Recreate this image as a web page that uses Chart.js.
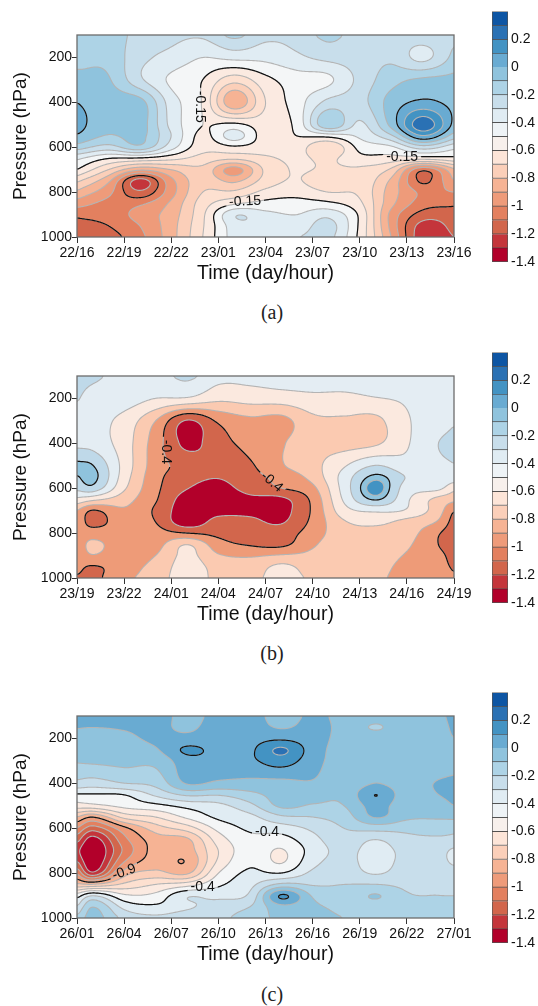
<!DOCTYPE html>
<html>
<head>
<meta charset="utf-8">
<title>Contours</title>
<script src="https://cdn.jsdelivr.net/npm/chart.js@4/dist/chart.umd.min.js"></script>
<style>
    html, body { margin: 0; padding: 0; background: #fff; }
    #page { position: relative; width: 538px; height: 1006px; overflow: hidden; }
    canvas { position: absolute; left: 0; }
    .tag { position: absolute; left: 222px; width: 100px; text-align: center; font: 20px "Liberation Serif", serif; color: #222; }
</style>
</head>
<body>
<div id="page">
    <canvas id="plotA" width="538" height="300" style="top:0"></canvas>
    <canvas id="barA" width="538" height="290" style="top:0"></canvas>
    <div class="tag" style="top:301px">(a)</div>
    <canvas id="plotB" width="538" height="300" style="top:341px"></canvas>
    <canvas id="barB" width="538" height="290" style="top:341px"></canvas>
    <div class="tag" style="top:642px">(b)</div>
    <canvas id="plotC" width="538" height="300" style="top:681px"></canvas>
    <canvas id="barC" width="538" height="290" style="top:681px"></canvas>
    <div class="tag" style="top:983px">(c)</div>
</div>
<script>
const timeLabelsA = ['22/16', '22/19', '22/22', '23/01', '23/04', '23/07', '23/10', '23/13', '23/16'];
const timeLabelsB = ['23/19', '23/22', '24/01', '24/04', '24/07', '24/10', '24/13', '24/16', '24/19'];
const timeLabelsC = ['26/01', '26/04', '26/07', '26/10', '26/13', '26/16', '26/19', '26/22', '27/01'];
const pressureTicks = [200, 400, 600, 800, 1000];
const barTicks = [0.2, 0, -0.2, -0.4, -0.6, -0.8, -1, -1.2, -1.4];

// colour bar bands, top to bottom
const barEdges = [0.4, 0.3, 0.2, 0.1, 0, -0.1, -0.2, -0.3, -0.4, -0.5, -0.6, -0.7, -0.8, -0.9, -1, -1.1, -1.2, -1.3, -1.4];
const barColors = ['#0d55a4', '#2a71b4', '#4393c3', '#69abd2', '#8fc3dd', '#add3e6', '#c8deeb', '#e0ecf3', '#eef3f6',
    '#f7f0ec', '#fde5d8', '#fbcfb9', '#f6b394', '#ee9b7a', '#e3805f', '#d2664c', '#c4353b', '#b2002a'];
// same bands as they come out inside the plots, the pale ones differ a little
const plotColors = ['#0d55a4', '#2a71b4', '#4393c3', '#69abd2', '#8fc3dd', '#add3e6', '#c8deeb', '#e0ecf3', '#f4f6f7',
    '#fbeae1', '#fde0d0', '#fbcfb9', '#f6b394', '#ee9b7a', '#e3805f', '#d2664c', '#c4353b', '#b2002a'];

// panel (b) has wider contour steps
const levelsB = [0.05, -0.05, -0.25, -0.45, -0.65, -0.85, -1.05, -1.25];
const colorsB = ['#4393c3', '#8fc3dd', '#bfd9e9', '#e4edf3', '#fbe9df', '#fbcab1', '#ee9b78', '#d2664c', '#b2002a'];

// hours since the start of each panel, one per column below
const hoursA = [0, 2, 4, 6, 8, 10, 12, 14, 16, 18, 20, 22, 24];
const hoursB = [0, 1, 3, 5, 7, 9, 11, 13, 15, 17, 19, 21, 23, 24];
const hoursC = hoursB;

const pressuresA = [100, 200, 300, 400, 500, 550, 600, 650, 700, 750, 800, 850, 900, 950, 1000];
const pressuresB = pressuresA;
const pressuresC = [100, 150, 200, 250, 300, 400, 450, 500, 550, 600, 650, 700, 750, 800, 850, 900, 950, 1000];

// each line is one time column, top of the atmosphere first
const valuesA = [
    [-.17, -.13, -.07, 0, .03, -.01, -.15, -.38, -.5, -.68, -.82, -.95, -1.08, -1.13, -1.17],
    [-.14, -.13, -.09, -.05, -.06, -.11, -.24, -.5, -.7, -.88, -.97, -1.03, -1.06, -1.1, -1.14],
    [-.24, -.27, -.28, -.06, -.05, -.07, -.13, -.52, -.88, -1.25, -1.18, -1.02, -.96, -1, -1.03],
    [-.27, -.33, -.42, -.35, -.33, -.3, -.36, -.57, -.8, -.93, -.94, -.88, -.85, -.84, -.84],
    [-.28, -.4, -.5, -.51, -.5, -.53, -.56, -.64, -.73, -.74, -.7, -.65, -.62, -.61, -.6],
    [-.17, -.37, -.66, -.88, -.47, -.35, -.52, -.68, -.95, -.82, -.68, -.52, -.31, -.35, -.36],
    [-.27, -.37, -.53, -.6, -.55, -.55, -.55, -.62, -.68, -.66, -.57, -.47, -.37, -.32, -.32],
    [-.26, -.32, -.45, -.45, -.47, -.5, -.55, -.58, -.59, -.59, -.53, -.47, -.4, -.36, -.3],
    [-.17, -.27, -.42, -.27, -.11, -.47, -.7, -.62, -.62, -.7, -.6, -.48, -.33, -.26, -.27],
    [-.25, -.25, -.27, -.24, -.32, -.38, -.47, -.53, -.62, -.63, -.62, -.58, -.52, -.52, -.53],
    [-.25, -.22, -.14, -.06, -.07, -.22, -.42, -.54, -.72, -.82, -.85, -.87, -.93, -.93, -.9],
    [-.24, -.33, -.08, .02, .27, .09, -.25, -.56, -1.08, -1.12, -1.02, -1.05, -1.14, -1.24, -1.27],
    [-.22, -.17, -.07, -.03, -.03, -.15, -.37, -.53, -.82, -.9, -1, -1.08, -1.15, -1.17, -1.2]
];
const valuesB = [
    [-.15, -.23, -.33, -.3, 0, -.07, -.2, -.5, -.85, -.92, -.95, -.97, -.98, -1, -1.07],
    [-.2, -.33, -.37, -.33, -.04, .02, -.12, -.6, -1.07, -1.12, -.95, -.8, -.86, -1.07, -1.1],
    [-.33, -.35, -.52, -.55, -.52, -.55, -.62, -.77, -.88, -.95, -.97, -.98, -.98, -.95, -.9],
    [-.33, -.45, -.85, -.95, -.95, -.98, -1, -1.03, -1.08, -1.05, -.98, -.93, -.85, -.78, -.75],
    [-.2, -.47, -1.27, -1.3, -1.12, -1.17, -1.24, -1.35, -1.38, -1.38, -1.05, -.65, -.6, -.57, -.55],
    [-.37, -.6, -1.02, -1.13, -1.2, -1.24, -1.32, -1.4, -1.33, -1.17, -1.1, -.97, -.83, -.72, -.7],
    [-.37, -.57, -.9, -.98, -1.08, -1.12, -1.17, -1.3, -1.3, -1.2, -1.13, -1.07, -.87, -.77, -.72],
    [-.32, -.55, -.92, -.87, -.87, -.98, -1.05, -1.3, -1.32, -1.27, -1.15, -1.1, -.83, -.6, -.55],
    [-.32, -.5, -.7, -.72, -.72, -.78, -.9, -1, -1.02, -1, -.95, -.88, -.8, -.74, -.68],
    [-.33, -.5, -.68, -.72, -.47, -.37, -.37, -.42, -.53, -.67, -.73, -.72, -.7, -.68, -.67],
    [-.32, -.46, -.7, -.68, -.24, 0, .12, -.03, -.42, -.6, -.72, -.73, -.73, -.75, -.78],
    [-.33, -.42, -.47, -.47, -.38, -.26, -.35, -.42, -.47, -.72, -.77, -.82, -.87, -.93, -.97],
    [-.33, -.33, -.35, -.25, -.3, -.33, -.4, -.72, -.77, -.87, -1.03, -1.05, -1, -1, -1],
    [-.27, -.32, -.27, -.18, -.26, -.33, -.6, -.8, -1.05, -1.15, -1.2, -1.18, -1.12, -1.07, -1.03]
];
const valuesC = [
    [.05, .005, -.03, -.06, -.09, -.23, -.41, -.55, -.8, -1, -1.15, -1.27, -1.18, -1, -.78, -.45, -.3, -.17],
    [.08, 0, -.02, -.05, -.08, -.25, -.41, -.53, -.9, -1.15, -1.35, -1.42, -1.4, -1.28, -.8, -.3, -.1, -.05],
    [.05, .01, -.02, -.04, -.07, -.2, -.4, -.47, -.67, -.93, -1.03, -1.08, -1, -.85, -.68, -.48, -.33, -.22],
    [.06, .03, .02, -.01, -.07, -.17, -.28, -.43, -.6, -.75, -.85, -.86, -.85, -.77, -.6, -.47, -.38, -.27],
    [-.04, -.02, .03, .12, .06, .01, -.18, -.37, -.48, -.65, -.82, -.85, -.893, -.82, -.55, -.31, -.32, -.22],
    [.04, .05, .05, .07, .07, -.02, -.19, -.33, -.38, -.47, -.55, -.6, -.58, -.5, -.42, -.33, -.25, -.22],
    [.05, .05, .06, .08, .08, -.03, -.13, -.23, -.33, -.38, -.43, -.44, -.42, -.38, -.33, -.28, -.2, -.15],
    [-.05, -.01, .08, .22, .15, -.03, -.06, -.08, -.22, -.35, -.44, -.51, -.51, -.4, -.18, .118, -.03, -.08],
    [.02, .03, .04, .05, .04, -.01, -.06, -.11, -.2, -.28, -.33, -.36, -.33, -.28, -.21, -.11, -.08, -.07],
    [-.03, -.03, -.03, -.04, -.05, -.07, -.08, -.1, -.15, -.2, -.24, -.27, -.27, -.25, -.2, -.17, -.13, -.1],
    [-.05, -.11, -.05, -.04, -.03, 0, .104, .04, .01, -.16, -.3, -.34, -.34, -.31, -.2, -.09, -.15, -.15],
    [-.04, -.04, -.05, -.05, -.05, -.05, -.06, -.07, -.08, -.17, -.23, -.27, -.27, -.25, -.22, -.19, -.16, -.13],
    [-.03, -.05, -.06, -.07, -.07, .01, 0, -.05, -.09, -.15, -.22, -.27, -.27, -.24, -.21, -.2, -.17, -.15],
    [.05, .03, 0, -.05, -.05, .03, .04, 0, -.08, -.17, -.23, -.32, -.32, -.25, -.22, -.2, -.19, -.16]
];

// the black lines and what is written on them
const blackLevelsA = [0, -0.5, -1.1];
const blackLevelsB = [-0.05, -1.05];
const blackLevelsC = [0.1, -0.4, -0.9];
const lineLabelsA = [
    { hour: 7.8, pressure: 420, text: '-0.15', angle: 90 },
    { hour: 10.7, pressure: 842, text: '-0.15', angle: -3 },
    { hour: 20.7, pressure: 642, text: '-0.15', angle: 0 }
];
const lineLabelsB = [
    { hour: 5.66, pressure: 438, text: '-0.4', angle: 90 },
    { hour: 12.4, pressure: 573, text: '-0.4', angle: 40 }
];
const lineLabelsC = [
    { hour: 12.1, pressure: 616, text: '-0.4', angle: 0 },
    { hour: 3, pressure: 795, text: '-0.9', angle: -20 },
    { hour: 8, pressure: 861, text: '-0.4', angle: 0 }
];

const sans = '"Liberation Sans", Arial, sans-serif';
const LINE_GRAY = '#b4b4b4';

// catmull-rom style slopes on an uneven grid
function slopesOf(xs, ys) {
    const n = xs.length;
    const m = [(ys[1] - ys[0]) / (xs[1] - xs[0])];
    for (let i = 1; i < n - 1; i++) m.push((ys[i + 1] - ys[i - 1]) / (xs[i + 1] - xs[i - 1]));
    m.push((ys[n - 1] - ys[n - 2]) / (xs[n - 1] - xs[n - 2]));
    return m;
}

function hermite(xs, ys, m, x) {
    let i = 0;
    while (i < xs.length - 2 && x > xs[i + 1]) i++;
    const h = xs[i + 1] - xs[i];
    const t = Math.min(1, Math.max(0, (x - xs[i]) / h));
    const t2 = t * t;
    const t3 = t2 * t;
    return (2 * t3 - 3 * t2 + 1) * ys[i] + (t3 - 2 * t2 + t) * h * m[i]
        + (-2 * t3 + 3 * t2) * ys[i + 1] + (t3 - t2) * h * m[i + 1];
}

// light box blur, rounds the corners left by the coarse grid
function softenField(field, radius) {
    const w = field.length;
    const h = field[0].length;
    const pass = (get, n, m, set) => {
        for (let a = 0; a < n; a++) {
            const line = [];
            for (let b = 0; b < m; b++) {
                let sum = 0, cnt = 0;
                for (let k = -radius; k <= radius; k++) {
                    const q = b + k;
                    if (q >= 0 && q < m) { sum += get(a, q); cnt++; }
                }
                line.push(sum / cnt);
            }
            line.forEach((v, b) => set(a, b, v));
        }
    };
    pass((i, j) => field[i][j], w, h, (i, j, v) => { field[i][j] = v; });
    pass((j, i) => field[i][j], h, w, (j, i, v) => { field[i][j] = v; });
}

// values on every pixel of the plot area, through the chart's scales
function buildField(chart, cfg) {
    const area = chart.chartArea;
    const w = Math.round(area.right - area.left);
    const h = Math.round(area.bottom - area.top);
    const xVals = [];
    const yVals = [];
    for (let i = 0; i <= w; i++) xVals.push(chart.scales.x.getValueForPixel(area.left + i));
    for (let j = 0; j <= h; j++) yVals.push(chart.scales.y.getValueForPixel(area.top + j));

    const rows = cfg.pressures.map((p, r) => {
        const ys = cfg.values.map(col => col[r]);
        const m = slopesOf(cfg.hours, ys);
        return xVals.map(x => hermite(cfg.hours, ys, m, x));
    });
    const field = [];
    for (let i = 0; i <= w; i++) {
        const ys = rows.map(row => row[i]);
        const m = slopesOf(cfg.pressures, ys);
        field.push(yVals.map(y => hermite(cfg.pressures, ys, m, y)));
    }
    softenField(field, 2);
    return { field, w, h };
}

function hexToRgb(hex) {
    const n = parseInt(hex.slice(1), 16);
    return [n >> 16, (n >> 8) & 255, n & 255];
}

function paintBands(ctx, area, grid, cfg) {
    const off = document.createElement('canvas');
    off.width = grid.w;
    off.height = grid.h;
    const octx = off.getContext('2d');
    const img = octx.createImageData(grid.w, grid.h);
    const rgb = cfg.colors.map(hexToRgb);
    for (let j = 0; j < grid.h; j++) {
        for (let i = 0; i < grid.w; i++) {
            const v = (grid.field[i][j] + grid.field[i + 1][j] + grid.field[i][j + 1] + grid.field[i + 1][j + 1]) / 4;
            let band = 0;
            while (band < cfg.levels.length && v < cfg.levels[band]) band++;
            const k = (j * grid.w + i) * 4;
            img.data[k] = rgb[band][0];
            img.data[k + 1] = rgb[band][1];
            img.data[k + 2] = rgb[band][2];
            img.data[k + 3] = 255;
        }
    }
    octx.putImageData(img, 0, 0);
    ctx.drawImage(off, area.left, area.top);
}

function traceLevel(ctx, area, grid, level) {
    const f = grid.field;
    const cut = (a, b) => (level - a) / (b - a);
    ctx.beginPath();
    for (let i = 0; i < grid.w; i++) {
        for (let j = 0; j < grid.h; j++) {
            const a = f[i][j], b = f[i + 1][j], c = f[i + 1][j + 1], d = f[i][j + 1];
            const pts = [];
            if ((a < level) !== (b < level)) pts.push([i + cut(a, b), j]);
            if ((b < level) !== (c < level)) pts.push([i + 1, j + cut(b, c)]);
            if ((d < level) !== (c < level)) pts.push([i + cut(d, c), j + 1]);
            if ((a < level) !== (d < level)) pts.push([i, j + cut(a, d)]);
            for (let k = 0; k + 1 < pts.length; k += 2) {
                ctx.moveTo(area.left + pts[k][0], area.top + pts[k][1]);
                ctx.lineTo(area.left + pts[k + 1][0], area.top + pts[k + 1][1]);
            }
        }
    }
    ctx.stroke();
}

function contourPlugin(cfg) {
    return {
        id: 'contour',
        beforeDatasetsDraw(chart) {
            const ctx = chart.ctx;
            const area = chart.chartArea;
            const grid = buildField(chart, cfg);
            paintBands(ctx, area, grid, cfg);

            ctx.save();
            ctx.beginPath();
            ctx.rect(area.left, area.top, grid.w, grid.h);
            ctx.clip();
            ctx.lineCap = 'round';
            ctx.strokeStyle = LINE_GRAY;
            ctx.lineWidth = 1.1;
            cfg.levels.forEach(level => traceLevel(ctx, area, grid, level));
            ctx.restore();

            // black lines stop around their labels
            ctx.save();
            ctx.font = '14px ' + sans;
            ctx.beginPath();
            ctx.rect(area.left, area.top, grid.w, grid.h);
            const spots = cfg.labels.map(lab => {
                const x = chart.scales.x.getPixelForValue(lab.hour);
                const y = chart.scales.y.getPixelForValue(lab.pressure);
                const halfW = ctx.measureText(lab.text).width / 2 + 3;
                const rad = lab.angle * Math.PI / 180;
                const cos = Math.cos(rad), sin = Math.sin(rad);
                [[-halfW, -7], [halfW, -7], [halfW, 7], [-halfW, 7]].forEach((p, n) => {
                    const px = x + p[0] * cos - p[1] * sin;
                    const py = y + p[0] * sin + p[1] * cos;
                    if (n === 0) ctx.moveTo(px, py); else ctx.lineTo(px, py);
                });
                ctx.closePath();
                return { x, y, rad, text: lab.text };
            });
            ctx.clip('evenodd');
            ctx.lineCap = 'round';
            ctx.strokeStyle = '#111';
            ctx.lineWidth = 1.2;
            cfg.blackLevels.forEach(level => traceLevel(ctx, area, grid, level));
            ctx.restore();

            ctx.save();
            ctx.font = '14px ' + sans;
            ctx.fillStyle = '#111';
            ctx.textAlign = 'center';
            ctx.textBaseline = 'middle';
            spots.forEach(s => {
                ctx.save();
                ctx.translate(s.x, s.y);
                ctx.rotate(s.rad);
                ctx.fillText(s.text, 0, 0);
                ctx.restore();
            });
            ctx.restore();
        },
        afterDraw(chart) {
            const ctx = chart.ctx;
            const a = chart.chartArea;
            ctx.save();
            ctx.strokeStyle = '#6c6c6c';
            ctx.lineWidth = 1.3;
            ctx.strokeRect(a.left, a.top, a.right - a.left, a.bottom - a.top);
            ctx.restore();
        }
    };
}

function drawPanel(id, cfg) {
    const points = [];
    cfg.hours.forEach((hour, c) => {
        cfg.pressures.forEach((pressure, r) => points.push({ x: hour, y: pressure, v: cfg.values[c][r] }));
    });
    new Chart(document.getElementById(id), {
        type: 'scatter',
        data: { datasets: [{ data: points, pointRadius: 0 }] },
        options: {
            responsive: false,
            animation: false,
            layout: { padding: { top: 35, left: 0, right: 84, bottom: 8 } },
            plugins: { legend: { display: false }, tooltip: { enabled: false } },
            scales: {
                x: {
                    type: 'linear',
                    min: 0,
                    max: 24,
                    afterFit: scale => { scale.height = 55; },
                    afterBuildTicks: scale => {
                        scale.ticks = cfg.timeLabels.map((t, i) => ({ value: i * 3 }));
                    },
                    border: { display: false },
                    grid: { drawOnChartArea: false, drawTicks: true, tickLength: 6, color: '#333', lineWidth: 1 },
                    ticks: {
                        padding: 2,
                        maxRotation: 0,
                        autoSkip: false,
                        color: '#111',
                        font: { family: sans, size: 14 },
                        callback: value => cfg.timeLabels[value / 3]
                    },
                    title: {
                        display: true,
                        text: 'Time (day/hour)',
                        color: '#111',
                        font: { family: sans, size: 19.5 },
                        padding: { top: 0, bottom: 7 }
                    }
                },
                y: {
                    type: 'linear',
                    reverse: true,
                    min: 100,
                    max: 1000,
                    afterFit: scale => { scale.width = 77; },
                    afterBuildTicks: scale => {
                        scale.ticks = pressureTicks.map(v => ({ value: v }));
                    },
                    border: { display: false },
                    grid: { drawOnChartArea: false, drawTicks: true, tickLength: 5, color: '#333', lineWidth: 1 },
                    ticks: {
                        padding: 0,
                        autoSkip: false,
                        color: '#111',
                        font: { family: sans, size: 14 },
                        callback: value => String(value)
                    },
                    title: {
                        display: true,
                        text: 'Pressure (hPa)',
                        color: '#111',
                        font: { family: sans, size: 19 },
                        padding: { top: 9, bottom: 0 }
                    }
                }
            }
        },
        plugins: [contourPlugin(cfg)]
    });
}

function drawColorBar(id) {
    const sets = barColors.map((color, i) => ({
        data: [[barEdges[i + 1], barEdges[i]]],
        backgroundColor: color,
        borderColor: 'rgba(40,40,40,0.8)',
        borderWidth: 1,
        barPercentage: 1,
        categoryPercentage: 1,
        grouped: false
    }));
    new Chart(document.getElementById(id), {
        type: 'bar',
        data: { labels: [''], datasets: sets },
        options: {
            responsive: false,
            animation: false,
            layout: { padding: { top: 10, left: 492, right: 0, bottom: 28 } },
            plugins: { legend: { display: false }, tooltip: { enabled: false } },
            scales: {
                x: { display: false },
                y: {
                    position: 'right',
                    min: -1.4,
                    max: 0.4,
                    afterFit: scale => { scale.width = 30; },
                    afterBuildTicks: scale => {
                        scale.ticks = barTicks.map(v => ({ value: v }));
                    },
                    border: { display: false },
                    grid: { display: false, drawTicks: false },
                    ticks: {
                        padding: 3,
                        autoSkip: false,
                        color: '#111',
                        font: { family: sans, size: 14 },
                        callback: value => String(value)
                    }
                }
            }
        }
    });
}

const barLevels = barEdges.slice(1, -1);

drawPanel('plotA', { hours: hoursA, pressures: pressuresA, values: valuesA, levels: barLevels, colors: plotColors,
    blackLevels: blackLevelsA, labels: lineLabelsA, timeLabels: timeLabelsA });
drawPanel('plotB', { hours: hoursB, pressures: pressuresB, values: valuesB, levels: levelsB, colors: colorsB,
    blackLevels: blackLevelsB, labels: lineLabelsB, timeLabels: timeLabelsB });
drawPanel('plotC', { hours: hoursC, pressures: pressuresC, values: valuesC, levels: barLevels, colors: plotColors,
    blackLevels: blackLevelsC, labels: lineLabelsC, timeLabels: timeLabelsC });

drawColorBar('barA');
drawColorBar('barB');
drawColorBar('barC');
</script>
</body>
</html>
